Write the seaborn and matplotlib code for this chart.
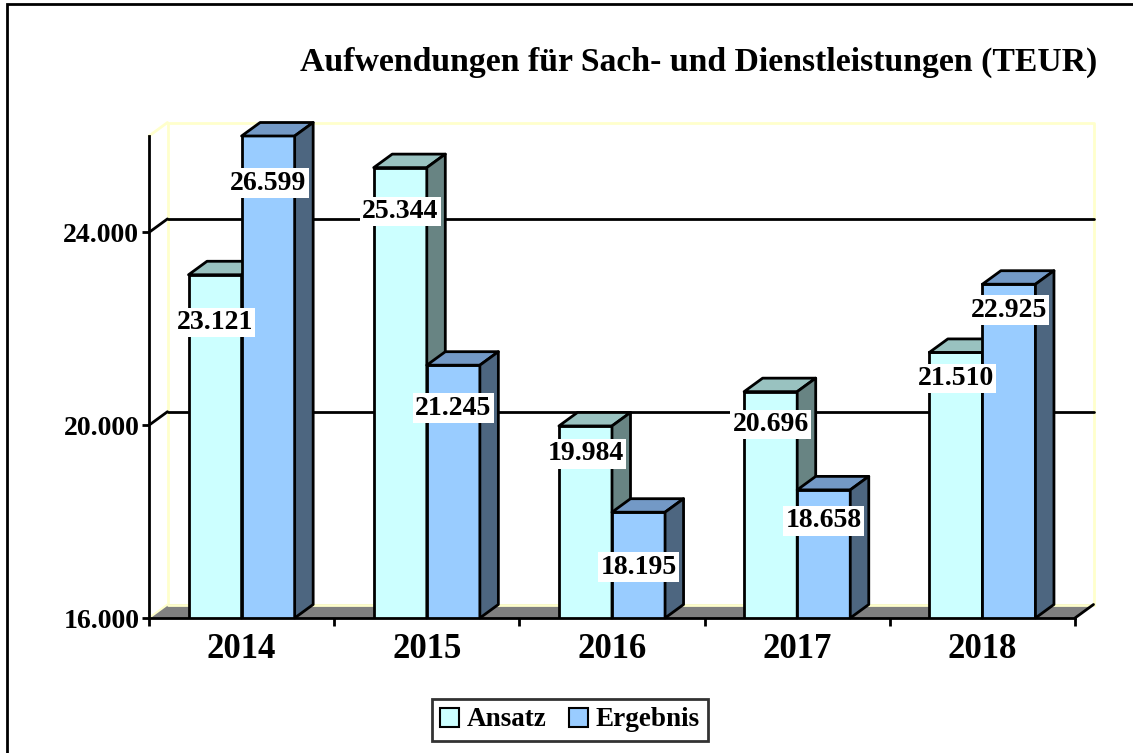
import matplotlib
matplotlib.use("Agg")
import matplotlib.pyplot as plt
import matplotlib.transforms as mtransforms
from matplotlib.patches import Polygon, Rectangle, Patch
from matplotlib.lines import Line2D
import seaborn as sns
import pandas as pd

# Daten (TEUR)
years = ["2014", "2015", "2016", "2017", "2018"]
ansatz = [23121, 25344, 19984, 20696, 21510]
ergebnis = [26599, 21245, 18195, 18658, 22925]
series = ["Ansatz", "Ergebnis"]
y_ticks = [16000, 20000, 24000]

front_col = {"Ansatz": "#CCFFFF", "Ergebnis": "#99CCFF"}
top_col = {"Ansatz": "#99C2C0", "Ergebnis": "#7399C6"}
side_col = {"Ansatz": "#688483", "Ergebnis": "#4D6680"}
WALL = "#FFFFCC"

df = pd.DataFrame({
    "Jahr": years * 2,
    "Serie": ["Ansatz"] * len(years) + ["Ergebnis"] * len(years),
    "Wert": ansatz + ergebnis,
})

sns.set_theme(style="white")
plt.rcParams["font.family"] = ["Liberation Serif", "DejaVu Serif"]
plt.rcParams["font.weight"] = "bold"
plt.rcParams["text.color"] = "black"
plt.rcParams["xtick.color"] = "black"
plt.rcParams["ytick.color"] = "black"
plt.rcParams["axes.labelcolor"] = "black"

W, H = 1133, 753
fig = plt.figure(figsize=(W / 100, H / 100), dpi=100)
ax = fig.add_axes([149 / W, 1 - 618 / H, 926 / W, 482 / H])
ax.set_facecolor("none")

sns.barplot(data=df, x="Jahr", y="Wert", hue="Serie", hue_order=series,
            palette=front_col, saturation=1, width=0.573, edgecolor="black",
            linewidth=2, legend=False, ax=ax, zorder=2)

YMIN, YMAX = 16000, 26000
ax.set_ylim(YMIN, YMAX)
ax.set_xlim(-0.5, len(years) - 0.5)

# 3D-Tiefe (Pixel)
DX, DY = 18.5, 13.5
off = mtransforms.ScaledTranslation(DX / fig.dpi, DY / fig.dpi, fig.dpi_scale_trans)
back_axes = ax.transAxes + off
back_y = ax.get_yaxis_transform() + off
ddx, ddy = DX / 926, DY / 482

def to_back(x, y):
    px, py = ax.transData.transform((x, y))
    return ax.transData.inverted().transform((px + DX, py + DY))

# Boden
floor = Polygon([(0, 0), (1, 0), (1 + ddx, ddy), (ddx, ddy)],
                closed=True, transform=ax.transAxes, fc="#808080", ec="none",
                zorder=0.5, clip_on=False)
ax.add_patch(floor)
ax.add_line(Line2D([0, 1], [0, 0], transform=back_axes, color=WALL, lw=2,
                   zorder=0.6, clip_on=False))
ax.add_line(Line2D([0, ddx], [0, ddy], transform=ax.transAxes,
                   color=WALL, lw=1.5, zorder=0.6, clip_on=False))
ax.add_line(Line2D([1, 1 + ddx], [0, ddy], transform=ax.transAxes,
                   color="black", lw=2, zorder=0.7, clip_on=False))

# Rueckwand
ax.add_line(Line2D([0, 0, 1, 1], [0, 1, 1, 0], transform=back_axes,
                   color=WALL, lw=2, zorder=0.4, clip_on=False))
ax.add_line(Line2D([0, ddx], [1, 1 + ddy], transform=ax.transAxes,
                   color=WALL, lw=2, zorder=0.4, clip_on=False))

# Gitterlinien auf der Rueckwand
for t in y_ticks[1:]:
    ax.add_line(Line2D([0, 1], [t, t], transform=back_y, color="black",
                       lw=2, zorder=1, clip_on=False))
    ya = ax.transLimits.transform((0, t))[1]
    ax.add_line(Line2D([0, ddx], [ya, ya + ddy], transform=ax.transAxes,
                       color="black", lw=2, zorder=1, clip_on=False))

# 3D-Flaechen der Saeulen
n = len(years)
for i, p in enumerate(ax.patches[: 2 * n]):
    s = series[i // n]
    z = 2 + i // n
    p.set_zorder(z)
    x0, w = p.get_x(), p.get_width()
    h = min(p.get_y() + p.get_height(), YMAX)
    b0 = to_back(x0, h)
    b1 = to_back(x0 + w, h)
    b2 = to_back(x0 + w, YMIN)
    ax.add_patch(Polygon([(x0, h), (x0 + w, h), b1, b0], closed=True,
                         fc=top_col[s], ec="black", lw=2, zorder=z,
                         clip_on=False, joinstyle="round"))
    ax.add_patch(Polygon([(x0 + w, h), b1, b2, (x0 + w, YMIN)], closed=True,
                         fc=side_col[s], ec="black", lw=2, zorder=z,
                         clip_on=False, joinstyle="round"))

# Datenbeschriftungen
drops = [48, 44, 28, 33, 26, 47, 43, 55, 31, 26]
vals = ansatz + ergebnis
for i, p in enumerate(ax.patches[: 2 * n]):
    h = min(p.get_y() + p.get_height(), YMAX)
    lab = f"{vals[i]:,}".replace(",", ".")
    ax.annotate(lab, xy=(p.get_x() + p.get_width() / 2, h),
                xytext=(0, -drops[i] * 0.72), textcoords="offset points",
                ha="center", va="center", fontsize=20, fontweight="bold",
                color="black", zorder=6, annotation_clip=False,
                bbox=dict(boxstyle="square,pad=0.08", fc="white", ec="none"))

# Achsen
for sp in ["top", "right"]:
    ax.spines[sp].set_visible(False)
for sp in ["left", "bottom"]:
    ax.spines[sp].set_color("black")
    ax.spines[sp].set_linewidth(2)
    ax.spines[sp].set_zorder(4)
ax.set_yticks(y_ticks)
ax.set_yticklabels([f"{t:,}".replace(",", ".") for t in y_ticks],
                   fontsize=20, fontweight="bold", color="black")
ax.tick_params(axis="y", left=True, length=5, width=2, color="black",
               labelcolor="black", pad=2)
ax.set_xticks(range(n))
ax.set_xticklabels(years, fontsize=25, fontweight="bold", color="black")
ax.set_xticks([k - 0.5 for k in range(n + 1)], minor=True)
ax.tick_params(axis="x", which="major", bottom=False, length=0, pad=11)
ax.tick_params(axis="x", which="minor", bottom=True, length=6, width=2,
               color="black")
ax.set_xlabel("")
ax.set_ylabel("")

# Titel
fig.text(1097 / W, 1 - 62 / H, "Aufwendungen für Sach- und Dienstleistungen (TEUR)",
         ha="right", va="center", fontsize=24.3, fontweight="bold", color="black")

# Legende
handles = [Patch(fc=front_col[s], ec="black", lw=1.5) for s in series]
leg = fig.legend(handles, series, loc="center", bbox_to_anchor=(570 / W, 1 - 720 / H),
                 ncol=2, frameon=True, fancybox=False, edgecolor="black",
                 handlelength=0.7, handleheight=0.7,
                 handletextpad=0.3, columnspacing=0.8, borderpad=0.3,
                 labelcolor="black", prop={"weight": "bold", "size": 19.5})
leg.get_frame().set_linewidth(2)

# Rahmen
fig.add_artist(Rectangle((7 / W, -0.1), 1.2, 1 - 4 / H + 0.1, transform=fig.transFigure,
                         fill=False, ec="black", lw=2))

fig.savefig("out.png", dpi=100)
